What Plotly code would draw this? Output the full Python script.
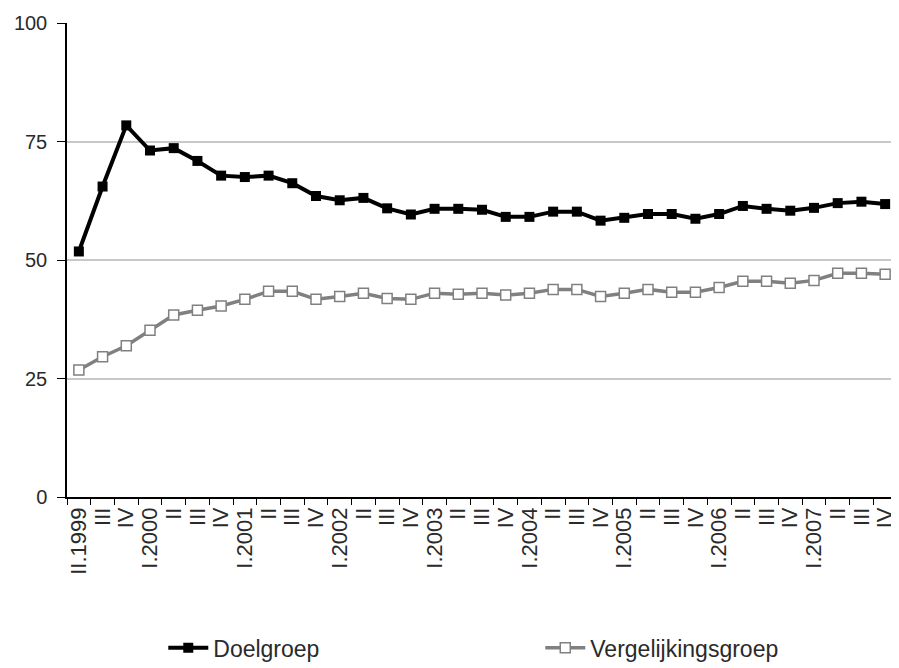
import plotly.graph_objects as go

# quarters II.1999 .. IV.2007
quarters = ["II.1999", "III.1999", "IV.1999"]
for yr in range(2000, 2008):
    quarters += ["I.%d" % yr, "II.%d" % yr, "III.%d" % yr, "IV.%d" % yr]

tick_labels = ["II.1999", "III", "IV"]
for yr in range(2000, 2008):
    tick_labels += ["I.%d" % yr, "II", "III", "IV"]

doelgroep = [51.8, 65.5, 78.4, 73.1, 73.6, 70.9, 67.8, 67.5, 67.8, 66.2,
             63.5, 62.6, 63.1, 60.9, 59.6, 60.8, 60.8, 60.6, 59.1, 59.1,
             60.2, 60.2, 58.3, 58.9, 59.7, 59.7, 58.7, 59.7, 61.4, 60.8,
             60.4, 61.0, 62.0, 62.3, 61.8]

vergelijkingsgroep = [26.8, 29.6, 31.9, 35.2, 38.4, 39.4, 40.3, 41.7, 43.4, 43.4,
                      41.7, 42.3, 43.0, 41.9, 41.7, 43.0, 42.8, 43.0, 42.6, 43.0,
                      43.8, 43.8, 42.3, 43.0, 43.8, 43.2, 43.2, 44.2, 45.5, 45.5,
                      45.1, 45.7, 47.2, 47.2, 47.0]

fig = go.Figure()
fig.add_trace(go.Scatter(
    x=quarters, y=doelgroep, name="Doelgroep", mode="lines+markers",
    line=dict(color="black", width=4),
    marker=dict(symbol="square", size=10, color="black"),
    legendwidth=322,
))
fig.add_trace(go.Scatter(
    x=quarters, y=vergelijkingsgroep, name="Vergelijkingsgroep", mode="lines+markers",
    line=dict(color="#808080", width=3.5),
    marker=dict(symbol="square", size=10, color="white",
                line=dict(color="#808080", width=1.5)),
))

# page body has an 8px margin, so the figure is a bit smaller than the window
fig.update_layout(
    width=891, height=660,
    margin=dict(l=59, r=2, t=15, b=171, autoexpand=False),
    plot_bgcolor="white", paper_bgcolor="white",
    font=dict(family="Liberation Sans, Arial", size=20, color="#2a2a2a"),
    showlegend=True,
    legend=dict(
        orientation="h", x=0.116, xanchor="left", y=-0.318, yanchor="middle",
        font=dict(size=23), itemwidth=40,
    ),
    xaxis=dict(
        type="category", tickmode="array", tickvals=quarters, ticktext=tick_labels,
        tickangle=-90, tickson="boundaries", ticks="outside", ticklen=6,
        tickcolor="black", showline=True, linecolor="black", linewidth=1.5,
        showgrid=False, tickfont=dict(size=22), range=[-0.5, 34.5],
        automargin=False,
    ),
    yaxis=dict(
        range=[0, 100], tickvals=[0, 25, 50, 75, 100], ticks="outside",
        ticklen=8, tickcolor="black", showline=True, linecolor="black",
        linewidth=1.5, gridcolor="#c8c8c8", gridwidth=1.5, zeroline=False,
        tickfont=dict(size=20), ticklabelstandoff=6, automargin=False,
    ),
)

fig.write_html("out.html")
